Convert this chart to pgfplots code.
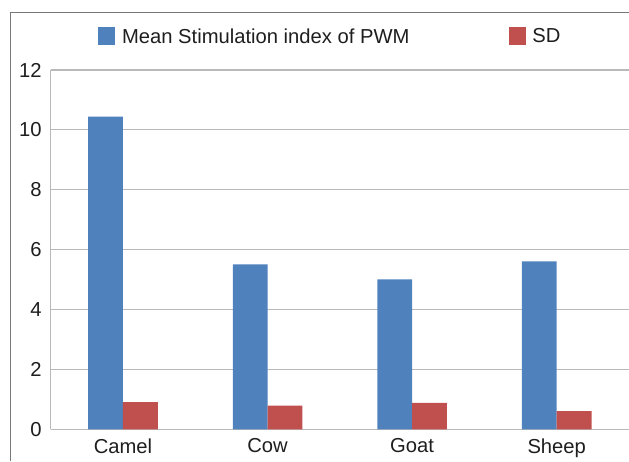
\documentclass[border=0pt]{standalone}
\usepackage{fontspec}
\setmainfont{Liberation Sans}
\usepackage{pgfplots}
\pgfplotsset{compat=1.18}
\definecolor{barblue}{RGB}{79,129,189}
\definecolor{barred}{RGB}{192,80,77}
\definecolor{gridgray}{RGB}{185,185,185}
\definecolor{framegray}{RGB}{120,120,120}
\definecolor{txt}{RGB}{30,30,30}
\begin{document}
\begin{tikzpicture}
\useasboundingbox (0,0) rectangle (629pt,461pt);
\draw[framegray, line width=1.2pt] (10.8pt,0pt) -- (10.8pt,448.2pt) -- (629pt,448.2pt);
\begin{axis}[
  at={(50.7pt,31.7pt)}, anchor=south west,
  scale only axis, width=578.3pt, height=359.3pt,
  xmin=-0.5, xmax=3.5, ymin=0, ymax=12,
  ybar=0pt, bar width=34.8pt,
  xtick={0,1,2,3}, xticklabels={Camel,Cow,Goat,Sheep},
  ytick={0,2,4,6,8,10,12},
  major tick length=0pt,
  axis x line*=bottom, axis y line*=left,
  axis line style={gridgray, line width=1.2pt},
  ymajorgrids, major grid style={gridgray, line width=1.2pt},
  /pgf/number format/assume math mode=true,
  tick label style={font=\fontsize{20.2}{24}\selectfont, text=txt, inner sep=0pt},
  yticklabel style={xshift=-9pt},
  xticklabel style={yshift=-9pt},
  legend columns=2,
  legend style={draw=none, fill=none, inner sep=0pt, outer sep=0pt,
    at={(0.0823,1.0933)}, anchor=west,
    font=\fontsize{20.2}{24}\selectfont, text=txt,
    nodes={inner sep=0pt},
    /tikz/every odd column/.append style={column sep=6.8pt},
    /tikz/every even column/.append style={column sep=99pt}},
  legend image code/.code={\fill[#1] (0pt,-9pt) rectangle (17pt,9pt);},
]
\addplot[fill=barblue, draw=none] coordinates {(0,10.44) (1,5.51) (2,5.01) (3,5.61)};
\addplot[fill=barred, draw=none] coordinates {(0,0.91) (1,0.79) (2,0.88) (3,0.61)};
\legend{Mean Stimulation index of PWM, SD}
\end{axis}
\end{tikzpicture}
\end{document}
